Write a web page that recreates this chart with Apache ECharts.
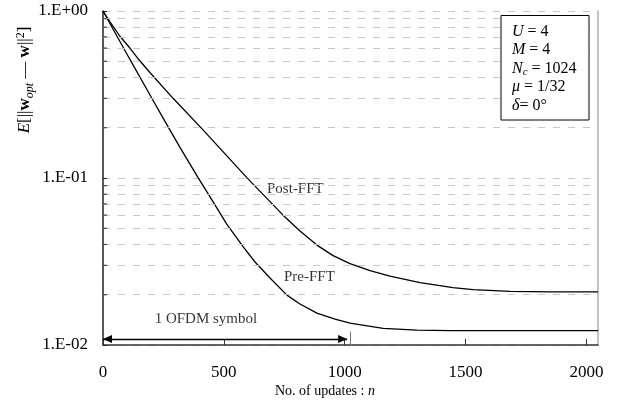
<!DOCTYPE html>
<html><head><meta charset="utf-8">
<script src="https://cdn.jsdelivr.net/npm/echarts@6/dist/echarts.min.js"></script>
<style>html,body{margin:0;padding:0;background:#fff}#c{width:633px;height:401px}</style>
</head><body><div id="c"></div>
<script>
// ---- data ----
const postN = [0, 29, 70, 112, 145, 195, 290, 410, 596, 745, 815, 885, 952, 1022, 1105, 1187, 1312, 1448, 1531, 1684, 1849, 2048];
const postV = [1.0, 0.862, 0.706, 0.598, 0.518, 0.427, 0.300, 0.197, 0.1002, 0.0599, 0.0481, 0.03965, 0.0343, 0.03073, 0.02791, 0.02587, 0.02365, 0.02208, 0.02148, 0.02096, 0.0208, 0.0208];
const preN  = [0, 50, 112, 195, 257, 319, 394, 455, 512, 581, 629, 691, 761, 815, 885, 960, 1022, 1159, 1299, 1436, 2048];
const preV  = [1.0, 0.741, 0.511, 0.313, 0.2174, 0.1519, 0.1002, 0.0722, 0.0530, 0.0386, 0.0314, 0.0252, 0.0199, 0.0176, 0.01553, 0.0143, 0.01354, 0.01259, 0.01226, 0.01218, 0.01218];
const yMinor = [0.02,0.03,0.04,0.05,0.06,0.07,0.08,0.09,0.2,0.3,0.4,0.5,0.6,0.7,0.8,0.9];
const curveLabels = [
  {name: 'Post-FFT', value: [798, 0.0858]},
  {name: 'Pre-FFT', value: [856, 0.0255]},
  {name: '1 OFDM symbol', value: [428, 0.01411]}
];
const arrowFrom = 0, arrowTo = 1010, arrowY = 0.01086;
const symbolN = 1024, symbolLineTop = 0.01202;
const paramLines = '{i|U} = 4\n{i|M} = 4\n{i|N}{sub|c} = 1024\n{i|μ} = 1/32\n{i|δ}= 0°';

const FONT = '"Liberation Serif", "Times New Roman", serif';
const fmt = v => { const e = Math.round(Math.log10(v)); return '1.E' + (e >= 0 ? '+' : '-') + String(Math.abs(e)).padStart(2, '0'); };

const chart = echarts.init(document.getElementById('c'), null, {renderer: 'canvas'});
const grid = '#c8c8c8';
const option = {
  animation: false,
  grid: {left: 103, right: 35, top: 11, bottom: 56},
  xAxis: {
    type: 'value', min: 0, max: 2048, interval: 500,
    axisLine: {lineStyle: {color: '#333', width: 1.5}},
    axisTick: {inside: true, length: 6, lineStyle: {color: '#333', width: 1}},
    axisLabel: {margin: 19, fontFamily: FONT, fontSize: 17, color: '#000', showMaxLabel: false,
      formatter: v => v > 2000 ? '' : String(v)},
    splitLine: {show: false}
  },
  yAxis: [{
    type: 'log', logBase: 10, min: 0.01, max: 1, position: 'left',
    axisLine: {show: true, lineStyle: {color: '#222', width: 1.5}},
    axisTick: {show: true, inside: true, length: 4, lineStyle: {color: '#222'}},
    axisLabel: {margin: 15, fontFamily: FONT, fontSize: 17, color: '#000', formatter: fmt},
    splitLine: {show: true, lineStyle: {color: grid, type: [7, 8], width: 1}}
  }, {
    type: 'log', logBase: 10, min: 0.01, max: 1, position: 'right',
    axisLine: {show: true, lineStyle: {color: '#b0b0b0', width: 1.5}},
    axisTick: {show: false}, axisLabel: {show: false}, splitLine: {show: false}
  }],
  series: [
    {type: 'line', name: 'Post-FFT', data: postN.map((n, i) => [n, postV[i]]), symbol: 'none',
     lineStyle: {color: '#000', width: 1.3}, silent: true},
    {type: 'line', name: 'Pre-FFT', data: preN.map((n, i) => [n, preV[i]]), symbol: 'none',
     lineStyle: {color: '#000', width: 1.3}, silent: true},
    {type: 'scatter', data: yMinor.map(v => [0, v]), symbol: 'rect', symbolSize: [4, 1.2], symbolOffset: [2, 0],
     itemStyle: {color: '#222'}, silent: true, clip: false, z: 5,
     markLine: {silent: true, symbol: 'none', label: {show: false},
       lineStyle: {color: grid, type: [7, 8], width: 1},
       data: yMinor.map(v => ({yAxis: v}))}},
    {type: 'scatter', data: curveLabels, symbolSize: 1, itemStyle: {color: 'rgba(0,0,0,0)'}, silent: true, clip: false,
     label: {show: true, position: [0, 0], align: 'center', verticalAlign: 'middle', formatter: p => p.data.name,
       fontFamily: FONT, fontSize: 15, color: '#000', textBorderWidth: 0},
     markLine: {silent: true, symbol: ['triangle', 'triangle'], symbolSize: [8, 9], symbolOffset: [[0, 4.5], [0, 4.5]],
       label: {show: false},
       data: [
         [{coord: [arrowFrom, arrowY], lineStyle: {color: '#000', width: 1.3, type: 'solid'}, itemStyle: {color: '#000'}},
          {coord: [arrowTo, arrowY]}],
         [{coord: [symbolN, symbolLineTop], symbol: 'none', lineStyle: {color: '#777', width: 1, type: 'solid'}},
          {coord: [symbolN, 0.01], symbol: 'none'}]
       ]}}
  ],
  graphic: [
    {type: 'rect', shape: {x: 501, y: 15.5, width: 88, height: 104.5}, style: {fill: '#fff', stroke: '#000', lineWidth: 1}, z: 10},
    {type: 'text', x: 512, y: 22, z: 11, style: {text: paramLines, align: 'left', verticalAlign: 'top',
      fontFamily: FONT, fontSize: 16, lineHeight: 18.6, fill: '#000',
      rich: {
        i: {fontFamily: FONT, fontSize: 16, fontStyle: 'italic', lineHeight: 18.6},
        sub: {fontFamily: FONT, fontSize: 11, fontStyle: 'italic', padding: [8, 0, 0, 0], lineHeight: 18.6}
      }}},
    {type: 'text', x: 25, y: 80, rotation: Math.PI / 2, style: {
      text: '{i|E}{n|[||}{b|w}{sub|opt}{n| — }{b|w}{n|||}{sup|2}{n|]}', align: 'center', verticalAlign: 'middle', fill: '#000',
      fontFamily: FONT, fontSize: 17,
      rich: {
        i: {fontFamily: FONT, fontSize: 17, fontStyle: 'italic'},
        n: {fontFamily: FONT, fontSize: 17},
        b: {fontFamily: FONT, fontSize: 17, fontWeight: 'bold'},
        sub: {fontFamily: FONT, fontSize: 12, fontStyle: 'italic', padding: [9, 0, 0, 0]},
        sup: {fontFamily: FONT, fontSize: 12, padding: [0, 0, 9, 0]}
      }}},
    {type: 'text', x: 275, y: 391.5, style: {text: 'No. of updates : {i|n}', align: 'left', verticalAlign: 'middle',
      fontFamily: FONT, fontSize: 14, fill: '#000',
      rich: {i: {fontFamily: FONT, fontSize: 14, fontStyle: 'italic'}}}}
  ]
};
chart.setOption(option);
</script>
</body></html>
